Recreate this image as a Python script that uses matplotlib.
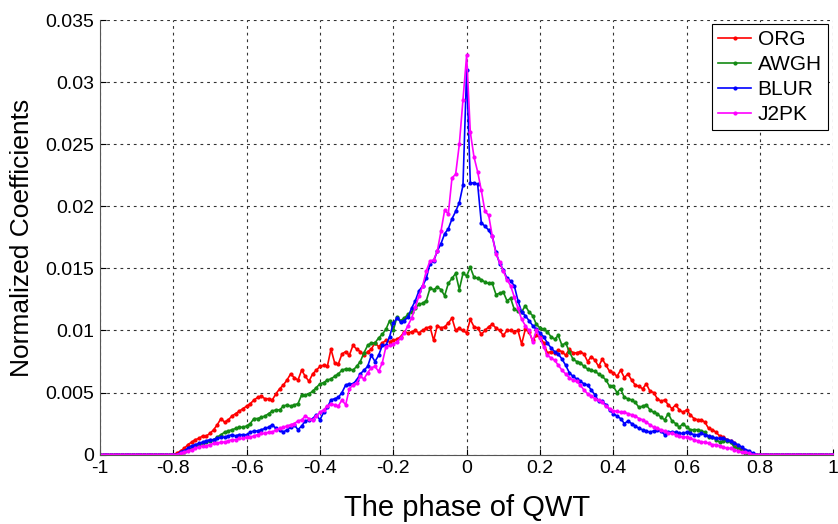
import numpy as np
import matplotlib
matplotlib.use("Agg")
import matplotlib.pyplot as plt

# values in units of 1e-3 at x = -0.80 ... 0.80, step 0.01
SCALE = 1e-3
x_inner = np.round(np.arange(-80, 81) / 100.0, 2)
x_left = np.round(np.arange(-100, -80) / 100.0, 2)
x_right = np.round(np.arange(81, 101) / 100.0, 2)
tail = [0.0] * 20

org = [
    0.0, 0.1, 0.3, 0.5, 0.8, 1.0, 1.2, 1.3, 1.5, 1.5,
    1.7, 2.0, 2.4, 2.9, 2.6, 2.8, 3.1, 3.3, 3.5, 3.7,
    3.9, 4.1, 4.4, 4.6, 4.7, 4.5, 4.5, 4.4, 4.9, 5.3,
    5.6, 6.0, 6.5, 6.2, 6.0, 6.8, 6.3, 5.9, 6.5, 6.8,
    7.1, 7.2, 7.1, 8.5, 7.4, 7.3, 8.1, 8.3, 8.0, 8.8,
    8.5, 8.3, 8.0, 8.3, 8.5, 9.0, 8.7, 9.0, 9.2, 9.1,
    9.2, 9.3, 9.5, 9.9, 9.8, 9.9, 10.0, 9.8, 10.0, 10.2,
    10.3, 9.2, 10.4, 10.2, 10.3, 10.6, 11.0, 10.0, 10.2, 10.0,
    9.8,
    10.9, 10.3, 10.2, 9.7, 10.0, 10.3, 10.5, 10.2, 10.0, 9.6,
    10.0, 10.0, 9.9, 10.0, 8.9, 10.1, 9.9, 9.2, 9.6, 9.5,
    9.0, 8.2, 8.3, 8.2, 8.4, 8.3, 8.0, 8.5, 8.2, 8.2,
    8.3, 8.1, 7.5, 7.9, 7.6, 7.1, 7.7, 7.2, 6.7, 6.6,
    6.3, 6.8, 6.2, 6.5, 6.0, 5.6, 5.5, 5.3, 5.7, 5.1,
    5.0, 4.5, 4.3, 4.4, 4.0, 3.7, 4.0, 3.6, 3.4, 3.6,
    3.2, 2.9, 2.8, 2.8, 2.6, 2.1, 2.0, 1.8, 1.5, 1.4,
    1.2, 1.1, 0.9, 0.6, 0.4, 0.2, 0.1, 0.0, 0.0, 0.0,
]
awgh = [
    0.0, 0.0, 0.1, 0.2, 0.4, 0.5, 0.7, 0.8, 0.9, 1.0,
    1.1, 1.2, 1.4, 1.6, 1.8, 1.9, 2.0, 2.1, 2.2, 2.2,
    2.3, 2.5, 2.9, 2.9, 3.0, 3.1, 3.3, 3.5, 3.6, 3.6,
    3.9, 4.0, 3.9, 4.0, 4.1, 4.8, 4.8, 4.9, 5.1, 5.4,
    5.7, 5.8, 6.0, 6.1, 6.3, 6.5, 6.8, 6.9, 6.9, 6.8,
    7.1, 7.5, 8.2, 8.8, 9.0, 9.0, 9.4, 9.7, 10.1, 10.8,
    10.0, 11.1, 10.8, 11.0, 11.3, 11.5, 11.8, 12.1, 12.2, 12.4,
    13.4, 13.3, 13.5, 13.3, 12.8, 13.8, 14.2, 14.6, 13.3, 14.6,
    14.4,
    15.1, 14.3, 14.2, 14.1, 13.9, 13.8, 13.8, 12.9, 13.0, 13.1,
    12.4, 12.6, 11.7, 11.6, 11.5, 12.0, 11.5, 11.2, 10.5, 10.2,
    10.1, 9.9, 9.5, 9.3, 9.6, 8.8, 9.0, 8.3, 7.7, 7.5,
    7.4, 7.1, 6.9, 6.8, 6.7, 6.5, 6.3, 6.0, 5.5, 5.5,
    5.0, 5.3, 4.6, 4.5, 4.4, 4.2, 3.8, 3.9, 4.0, 3.6,
    3.4, 3.3, 3.0, 2.8, 3.3, 2.7, 2.5, 2.2, 2.5, 2.2,
    2.0, 2.0, 2.0, 1.9, 1.8, 1.4, 1.4, 1.2, 1.0, 1.1,
    1.1, 1.0, 0.6, 0.5, 0.3, 0.1, 0.0, 0.0, 0.0, 0.0,
]
blur = [
    0.0, 0.0, 0.2, 0.3, 0.5, 0.7, 0.8, 0.9, 1.0, 1.1,
    1.2, 1.2, 1.3, 1.4, 1.4, 1.5, 1.6, 1.5, 1.6, 1.6,
    1.6, 1.8, 1.9, 1.9, 2.0, 2.1, 2.2, 2.4, 2.1, 2.0,
    1.8, 2.0, 2.2, 2.4, 2.0, 2.3, 2.7, 2.8, 2.9, 3.2,
    2.8, 3.4, 3.8, 4.4, 4.5, 4.6, 5.0, 5.6, 5.7, 5.7,
    6.0, 6.5, 6.8, 7.1, 8.0, 7.5, 8.0, 8.8, 8.8, 9.5,
    10.6, 11.0, 10.7, 10.8, 11.1, 11.8, 12.4, 13.2, 13.6, 14.2,
    15.4, 15.6, 16.4, 17.0, 17.8, 18.2, 19.0, 19.6, 20.3, 21.7,
    31.0,
    21.9, 21.9, 21.8, 18.7, 18.4, 18.1, 17.6, 16.3, 15.4, 14.9,
    14.2, 14.0, 13.6, 12.4, 11.5, 11.2, 10.8, 10.4, 10.1, 9.8,
    9.5, 9.0, 8.6, 8.3, 8.1, 7.7, 7.2, 6.6, 6.3, 6.1,
    5.9, 5.7, 5.6, 5.2, 4.8, 4.3, 4.3, 4.0, 3.6, 3.3,
    3.1, 2.9, 2.5, 2.7, 2.5, 2.3, 2.1, 2.0, 1.9, 1.8,
    1.9, 2.0, 1.9, 1.6, 1.8, 1.8, 1.8, 1.7, 1.7, 1.8,
    1.7, 1.6, 1.6, 1.7, 1.6, 1.5, 1.4, 1.3, 1.3, 1.3,
    1.2, 1.1, 0.9, 0.8, 0.6, 0.4, 0.3, 0.1, 0.0, 0.0,
]
j2pk = [
    0.0, 0.0, 0.1, 0.2, 0.3, 0.4, 0.5, 0.6, 0.7, 0.7,
    0.8, 0.9, 0.9, 1.0, 1.0, 1.1, 1.2, 1.2, 1.3, 1.3,
    1.4, 1.4, 1.5, 1.6, 1.7, 1.7, 1.8, 1.8, 2.0, 2.1,
    2.2, 2.3, 2.4, 2.5, 2.7, 2.8, 3.1, 2.9, 2.8, 3.1,
    3.4, 3.6, 3.9, 4.1, 4.0, 3.9, 4.4, 4.0, 5.3, 5.6,
    5.8, 6.3, 6.1, 6.6, 7.0, 7.1, 6.7, 7.4, 8.7, 8.8,
    8.9, 9.1, 9.4, 9.8, 10.4, 11.0, 11.9, 12.8, 13.6, 14.8,
    15.6, 15.7, 16.4, 18.0, 19.7, 19.4, 22.3, 22.6, 25.0, 28.6,
    32.2,
    26.0, 24.0, 22.8, 21.3, 19.6, 19.3, 17.6, 16.2, 15.5, 14.8,
    14.1, 13.6, 12.7, 11.8, 10.9, 10.4, 10.0, 9.1, 10.0, 9.4,
    8.7, 8.0, 7.8, 7.6, 7.2, 6.8, 6.5, 6.2, 6.0, 5.9,
    5.6, 5.2, 4.9, 4.7, 4.5, 4.4, 4.2, 3.9, 3.7, 3.5,
    3.5, 3.4, 3.4, 3.3, 3.2, 3.1, 2.9, 2.8, 2.6, 2.4,
    2.2, 2.1, 2.0, 1.9, 1.7, 1.7, 1.6, 1.5, 1.4, 1.4,
    1.3, 1.2, 1.1, 1.0, 1.0, 0.9, 0.8, 0.8, 0.7, 0.6,
    0.5, 0.5, 0.4, 0.3, 0.2, 0.2, 0.1, 0.0, 0.0, 0.0,
]

labels = ["ORG", "AWGH", "BLUR", "J2PK"]
colors = ["#ff0000", "#138a13", "#0000ff", "#ff00ff"]
xticks = [-1, -0.8, -0.6, -0.4, -0.2, 0, 0.2, 0.4, 0.6, 0.8, 1]
xticklabels = ["-1", "-0.8", "-0.6", "-0.4", "-0.2", "0", "0.2", "0.4", "0.6", "0.8", "1"]
yticks = [0, 0.005, 0.01, 0.015, 0.02, 0.025, 0.03, 0.035]
yticklabels = ["0", "0.005", "0.01", "0.015", "0.02", "0.025", "0.03", "0.035"]

plt.rcParams["font.family"] = ["Liberation Sans", "DejaVu Sans"]

x = np.concatenate([x_left, x_inner, x_right])
fig = plt.figure(figsize=(8.38, 5.24), dpi=100)
ax = fig.add_axes([0.1193, 0.1326, 0.8751, 0.8284])

for name, vals, c in zip(labels, [org, awgh, blur, j2pk], colors):
    y = np.array(tail + vals + tail) * SCALE
    ax.plot(x, y, color=c, linewidth=1.2, marker=".", markersize=4, label=name)

ax.set_xlim(-1, 1)
ax.set_ylim(0, 0.035)
ax.set_xticks(xticks)
ax.set_xticklabels(xticklabels)
ax.set_yticks(yticks)
ax.set_yticklabels(yticklabels)
ax.tick_params(direction="in", length=4, labelsize=14, colors="black", pad=4)
ax.grid(True, color="#333333", linestyle=(0, (2.5, 3.5)), linewidth=0.8)
for side in ["top", "right"]:
    ax.spines[side].set_visible(False)
for side in ["left", "bottom"]:
    ax.spines[side].set_color("#555555")

ax.set_xlabel("The phase of QWT", fontsize=21, labelpad=12)
ax.set_ylabel("Normalized Coefficients", fontsize=19, labelpad=8)

leg = ax.legend(loc="upper right", bbox_to_anchor=(0.988, 0.954), bbox_transform=fig.transFigure,
                fontsize=15, frameon=True, fancybox=False, edgecolor="black", framealpha=1,
                handlelength=1.6, handletextpad=0.3, labelspacing=0.28, borderpad=0.3,
                borderaxespad=0.0)
leg.get_frame().set_linewidth(0.8)

fig.savefig("out.png", dpi=100)
